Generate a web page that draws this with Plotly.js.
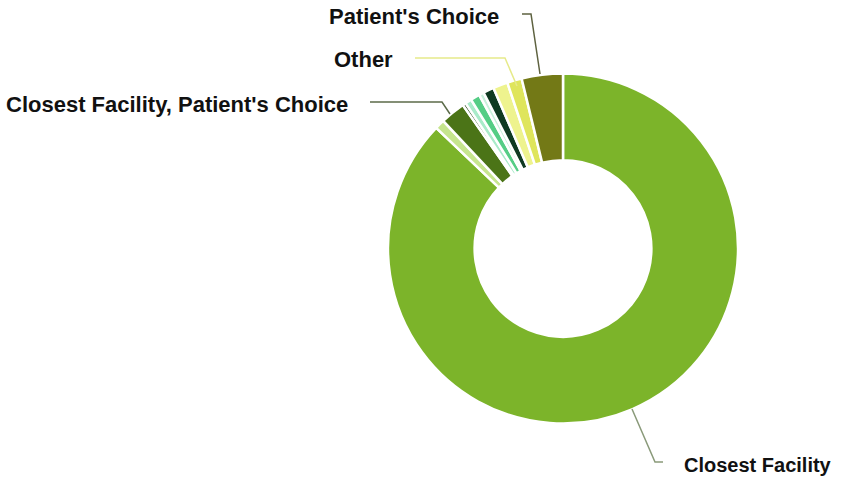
<!DOCTYPE html>
<html>
<head>
<meta charset="utf-8">
<script src="https://cdn.plot.ly/plotly-3.0.1.min.js"></script>
<style>html,body{margin:0;padding:0;background:#fff;}#chart{width:843px;height:477px;}</style>
</head>
<body>
<div id="chart"></div>
<script>
// Slices in clockwise order starting at 12 o'clock
const categories = [
  "Closest Facility",
  "Closest Facility, Other",
  "Closest Facility, Patient's Choice",
  "Closest Facility, Patient's Choice, Other",
  "Diversion",
  "Specialty Resource Center",
  "Patient's Choice, Other",
  "Law Enforcement Choice",
  "Other",
  "Family Choice",
  "Patient's Choice"
];
const values = [87.1, 0.9, 2.3, 0.3, 0.6, 0.85, 0.45, 1.0, 1.35, 1.35, 3.8];
const colors = ["#7cb42a", "#c6e58e", "#4b7417", "#2f4f1f", "#a9ebc9", "#55cd85",
                "#c8f2dc", "#0f3a22", "#eef38e", "#dfe55c", "#737916"];
const labelTexts = ["Patient's Choice", "Other", "Closest Facility, Patient's Choice", "Closest Facility"];

const W = 843, H = 477;
const px = x => x / W, py = y => 1 - y / H;

const trace = {
  type: 'pie',
  labels: categories,
  values: values,
  sort: false,
  direction: 'clockwise',
  rotation: 0,
  hole: 0.505,
  textinfo: 'none',
  hoverinfo: 'label+percent',
  marker: {colors: colors, line: {color: '#ffffff', width: 2.5}},
  domain: {x: [px(388), px(738)], y: [py(424), py(73)]},
  showlegend: false
};

function ann(text, x, y, anchor, size) {
  return {text: '<b>' + text + '</b>', x: px(x), y: py(y), xref: 'paper', yref: 'paper',
          xanchor: anchor, yanchor: 'middle', showarrow: false,
          font: {family: 'Liberation Sans, Arial, sans-serif', size: size, color: '#111111'}};
}
function path(pts, color) {
  let d = pts.map((p, i) => (i ? 'L' : 'M') + px(p[0]) + ',' + py(p[1])).join(' ');
  return {type: 'path', xref: 'paper', yref: 'paper', path: d, line: {color: color, width: 1.5}};
}

const layout = {
  width: W, height: H,
  margin: {l: 0, r: 0, t: 0, b: 0},
  paper_bgcolor: '#ffffff',
  annotations: [
    ann(labelTexts[0], 501, 17, 'right', 22),
    ann(labelTexts[1], 395, 60, 'right', 22),
    ann(labelTexts[2], 350, 104, 'right', 22),
    ann(labelTexts[3], 682, 465, 'left', 20)
  ],
  shapes: [
    path([[522, 14], [531, 14], [540, 74]], '#5e6240'),
    path([[415, 58], [505, 58], [517, 86]], '#e6ea8a'),
    path([[370, 102], [442, 102], [450, 114]], '#5c6b4a'),
    path([[632, 409], [655, 462], [663, 462]], '#8a9a7a')
  ]
};

Plotly.newPlot('chart', [trace], layout, {displayModeBar: false, staticPlot: true});
</script>
</body>
</html>
